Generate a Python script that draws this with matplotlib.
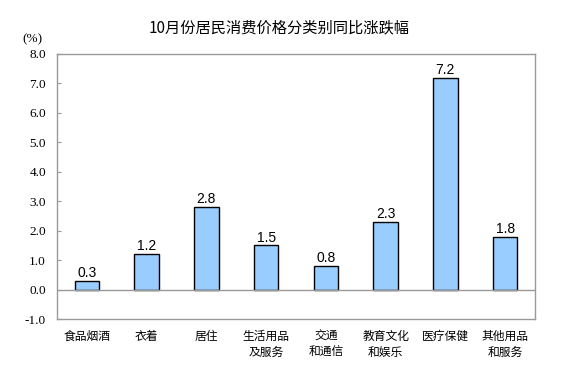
import numpy as np
import matplotlib.pyplot as plt

plt.rcParams['font.family'] = ['Noto Sans CJK SC', 'DejaVu Sans']

categories = ["食品烟酒", "衣着", "居住", "生活用品\n及服务", "交通\n和通信",
              "教育文化\n和娱乐", "医疗保健", "其他用品\n和服务"]
values = [0.3, 1.2, 2.8, 1.5, 0.8, 2.3, 7.2, 1.8]
yticks = [-1.0, 0.0, 1.0, 2.0, 3.0, 4.0, 5.0, 6.0, 7.0, 8.0]

fig = plt.figure(figsize=(5.8, 3.76), dpi=100)
ax = fig.add_axes([57/580, 1-319/376, 478/580, 265/376])

x = np.arange(len(categories))
ax.bar(x, values, width=0.41, color="#99CCFF", edgecolor="black", linewidth=1)
for xi, v in zip(x, values):
    ax.text(xi, v + 0.03, f"{v:.1f}", ha="center", va="bottom", fontsize=10,
            family="Liberation Sans")

ax.axhline(0, color="#999999", linewidth=1)
ax.set_xlim(-0.5, len(categories) - 0.5)
ax.set_ylim(-1, 8)
ax.set_yticks(yticks)
ax.set_yticklabels([f"{t:.1f}" for t in yticks], family="Liberation Serif",
                   fontsize=9.5)
ax.tick_params(axis="y", direction="in", length=3, color="#999999", pad=8)
ax.tick_params(axis="x", length=0, pad=8)
ax.set_xticks(x)
ax.set_xticklabels(categories, fontsize=8.5, linespacing=1.25, va="top")
for s in ax.spines.values():
    s.set_color("#999999")
    s.set_linewidth(1)

fig.text(279/580, 1-28/376, "10月份居民消费价格分类别同比涨跌幅", ha="center",
         va="center", fontsize=11)
fig.text(32/580, 1-39/376, "(%)", ha="center", va="center", fontsize=9.5,
         family="Liberation Serif")

fig.savefig("out.png", dpi=100)
